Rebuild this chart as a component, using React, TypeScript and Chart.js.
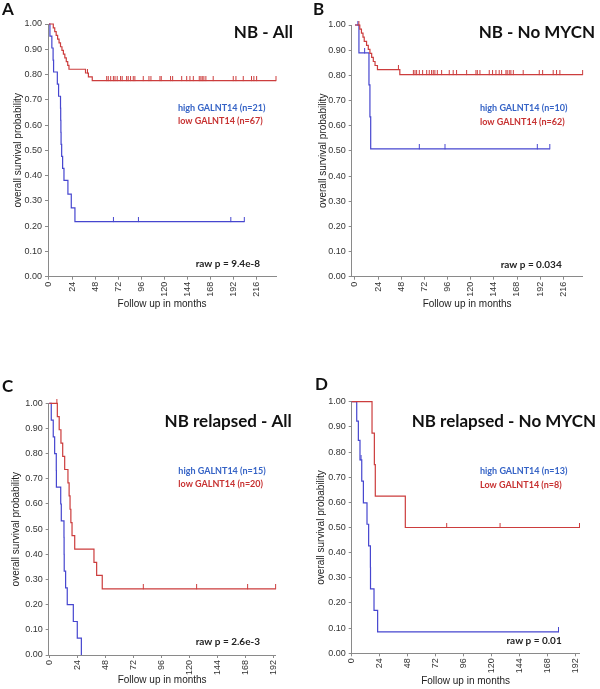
import React, { useEffect, useRef } from 'react';
import { Chart, registerables } from 'chart.js';

Chart.register(...registerables);

// ---------------- DATA ----------------
const xTicksLong = [0, 24, 48, 72, 96, 120, 144, 168, 192, 216];
const xTicksShort = [0, 24, 48, 72, 96, 120, 144, 168, 192];
const yTicks = [0, 0.1, 0.2, 0.3, 0.4, 0.5, 0.6, 0.7, 0.8, 0.9, 1.0];

const yAxisTitle = 'overall survival probability';
const xAxisTitle = 'Follow up in months';

// Panel A: NB - All
const A_title = 'NB - All';
const A_highLabel = 'high GALNT14 (n=21)';
const A_lowLabel = 'low GALNT14 (n=67)';
const A_pValue = 'raw p = 9.4e-8';
const A_highT = [0, 1, 3, 4.3, 4.8, 8.7, 10, 12, 12.2, 12.4, 12.6, 13.2, 14.2, 15.6, 19.7, 23.2, 27, 203];
const A_highS = [1, 0.952, 0.905, 0.857, 0.81, 0.762, 0.714, 0.667, 0.619, 0.571, 0.524, 0.476, 0.429, 0.381, 0.327, 0.272, 0.218, 0.218];
const A_highCens = [67, 93, 189, 203];
const A_lowT = [0, 4.5, 6, 7.5, 9, 10.5, 12, 13.5, 15, 16.5, 18, 19.5, 20.8, 38, 41, 45, 236];
const A_lowS = [1, 0.985, 0.97, 0.955, 0.94, 0.925, 0.91, 0.896, 0.881, 0.866, 0.851, 0.836, 0.821, 0.806, 0.791, 0.776, 0.776];
const A_lowCens = [40, 60, 61.6, 64.1, 66.9, 68.6, 70.9, 74.4, 76.1, 80.7, 82.3, 84.8, 87.6, 89.3, 98, 103.9, 106, 115.3, 116.7, 126.4, 128.5, 137.9, 143.1, 146.5, 150, 156.2, 157.9, 159.3, 161, 163.1, 170.7, 191.5, 194.3, 201.9, 210.5, 213, 215.8, 236];

// Panel B: NB - No MYCN
const B_title = 'NB - No MYCN';
const B_highLabel = 'high GALNT14 (n=10)';
const B_lowLabel = 'low GALNT14 (n=62)';
const B_pValue = 'raw p = 0.034';
const B_highT = [0, 4.1, 14.5, 15.5, 16.3, 202];
const B_highS = [1, 0.889, 0.762, 0.635, 0.508, 0.508];
const B_highCens = [3, 10, 66.7, 93.3, 189, 202];
const B_lowT = [0, 5, 6.7, 8.3, 9.6, 12, 13.8, 15.5, 17.3, 19, 20.8, 23.3, 46.5, 236];
const B_lowS = [1, 0.984, 0.968, 0.952, 0.935, 0.919, 0.903, 0.887, 0.871, 0.855, 0.839, 0.823, 0.803, 0.803];
const B_lowCens = [4, 45, 60.5, 62.2, 63.9, 66.7, 70.1, 74.3, 77, 79.4, 81.1, 82.8, 85.3, 89.8, 97.7, 101.8, 105.3, 115.7, 125.4, 126.8, 129.5, 139.2, 142.6, 146.1, 149.5, 152, 156.5, 157.8, 159.9, 161.6, 164.1, 174.4, 191, 194.5, 205.5, 209, 212.4, 236];

// Panel C: NB relapsed - All
const C_title = 'NB relapsed - All';
const C_highLabel = 'high GALNT14 (n=15)';
const C_lowLabel = 'low GALNT14 (n=20)';
const C_pValue = 'raw p = 2.6e-3';
const C_highT = [0, 1.7, 3.4, 4.6, 6, 6.1, 9.8, 10.3, 12.6, 12.7, 12.8, 14, 15.4, 20.6, 24, 27.5];
const C_highS = [1, 0.933, 0.867, 0.8, 0.733, 0.667, 0.6, 0.533, 0.467, 0.4, 0.333, 0.267, 0.2, 0.133, 0.067, 0];
const C_highCens: number[] = [];
const C_lowT = [0, 6.9, 8.5, 10, 11.5, 13.2, 16, 17, 17.8, 18.5, 19.5, 21.8, 38.3, 40.6, 45.4, 194];
const C_lowS = [1, 0.947, 0.895, 0.842, 0.789, 0.737, 0.684, 0.632, 0.579, 0.526, 0.474, 0.421, 0.368, 0.316, 0.263, 0.263];
const C_lowCens = [6.5, 80.6, 126.3, 170, 194];

// Panel D: NB relapsed - No MYCN
const D_title = 'NB relapsed - No MYCN';
const D_highLabel = 'high GALNT14 (n=13)';
const D_lowLabel = 'Low GALNT14 (n=8)';
const D_pValue = 'raw p = 0.01';
const D_highT = [0, 4.3, 5.7, 7.1, 8.6, 10, 13.1, 14.5, 16, 16.1, 19.1, 22.2, 177];
const D_highS = [1, 0.923, 0.846, 0.769, 0.684, 0.598, 0.513, 0.427, 0.342, 0.256, 0.171, 0.085, 0.085];
const D_highCens = [8, 177];
const D_lowT = [0, 17.4, 19.4, 20.2, 45.9, 195];
const D_lowS = [1, 0.875, 0.75, 0.625, 0.5, 0.5];
const D_lowCens = [81.3, 127, 195];

// ---------------- STYLE ----------------
const BLUE = '#4646cf';
const RED = '#cc3d3d';
const BLUE_TEXT = '#3563c6';
const RED_TEXT = '#c73131';
const AXIS = '#8a8a8a';
const TICK_TEXT = '#333333';
const LABEL_FONT = 'bold 17px Lato, "Open Sans", sans-serif';
const LEG_FONT = 'bold 9px Lato, "Open Sans", sans-serif';
const P_FONT = 'bold 10px Lato, "Open Sans", sans-serif';

type Txt = { text: string; x: number; y: number; font: string; color: string; align: CanvasTextAlign; baseline: CanvasTextBaseline };

type PanelCfg = {
  key: string;
  left: number; top: number; w: number; h: number;
  area: { l: number; t: number; r: number; b: number };
  xMin: number; xMax: number; xTicks: number[];
  yTitleX: number; xTitleY: number;
  highT: number[]; highS: number[]; highCens: number[];
  lowT: number[]; lowS: number[]; lowCens: number[];
  texts: Txt[];
};

function mkTexts(letter: string, lx: number, ly: number, title: string, tx: number, ty: number,
  hi: string, lo: string, legX: number, legY1: number, legY2: number, p: string, px: number, py: number): Txt[] {
  return [
    { text: letter, x: lx, y: ly, font: LABEL_FONT, color: '#111', align: 'left', baseline: 'alphabetic' },
    { text: title, x: tx, y: ty, font: LABEL_FONT, color: '#111', align: 'right', baseline: 'alphabetic' },
    { text: hi, x: legX, y: legY1, font: LEG_FONT, color: BLUE_TEXT, align: 'left', baseline: 'middle' },
    { text: lo, x: legX, y: legY2, font: LEG_FONT, color: RED_TEXT, align: 'left', baseline: 'middle' },
    { text: p, x: px, y: py, font: P_FONT, color: '#222', align: 'right', baseline: 'middle' },
  ];
}

const panels: PanelCfg[] = [
  {
    key: 'A', left: 0, top: 0, w: 300, h: 330,
    area: { l: 48, t: 24, r: 276, b: 276.7 }, xMin: -1, xMax: 236, xTicks: xTicksLong,
    yTitleX: 18, xTitleY: 304,
    highT: A_highT, highS: A_highS, highCens: A_highCens, lowT: A_lowT, lowS: A_lowS, lowCens: A_lowCens,
    texts: mkTexts('A', 2, 15, A_title, 293, 38, A_highLabel, A_lowLabel, 178, 108.5, 121.5, A_pValue, 260, 263.5),
  },
  {
    key: 'B', left: 300, top: 0, w: 300, h: 330,
    area: { l: 51.7, t: 25, r: 282.6, b: 276.7 }, xMin: -3.4, xMax: 236, xTicks: xTicksLong,
    yTitleX: 23.3, xTitleY: 304.3,
    highT: B_highT, highS: B_highS, highCens: B_highCens, lowT: B_lowT, lowS: B_lowS, lowCens: B_lowCens,
    texts: mkTexts('B', 13, 15, B_title, 295, 38, B_highLabel, B_lowLabel, 180, 108.3, 121.7, B_pValue, 261.7, 264.3),
  },
  {
    key: 'C', left: 0, top: 330, w: 300, h: 359,
    area: { l: 48.7, t: 73.3, r: 275.6, b: 325 }, xMin: -0.5, xMax: 194, xTicks: xTicksShort,
    yTitleX: 16.7, xTitleY: 350,
    highT: C_highT, highS: C_highS, highCens: C_highCens, lowT: C_lowT, lowS: C_lowS, lowCens: C_lowCens,
    texts: mkTexts('C', 2, 62, C_title, 291.7, 96.7, C_highLabel, C_lowLabel, 178.3, 141, 154, C_pValue, 260, 311.7),
  },
  {
    key: 'D', left: 300, top: 330, w: 300, h: 359,
    area: { l: 51.7, t: 71.7, r: 279.5, b: 323.3 }, xMin: 0, xMax: 195, xTicks: xTicksShort,
    yTitleX: 21.7, xTitleY: 351,
    highT: D_highT, highS: D_highS, highCens: D_highCens, lowT: D_lowT, lowS: D_lowS, lowCens: D_lowCens,
    texts: mkTexts('D', 15, 60, D_title, 296, 96.7, D_highLabel, D_lowLabel, 180, 141, 155, D_pValue, 261.7, 311),
  },
];

// ---------------- HELPERS ----------------
function levelAt(times: number[], surv: number[], t: number): number {
  let v = surv[0];
  for (let i = 0; i < times.length; i++) {
    if (times[i] <= t) v = surv[i];
  }
  return v;
}

function makeTick(color: string): HTMLCanvasElement {
  const c = document.createElement('canvas');
  c.width = 3;
  c.height = 9;
  const ctx = c.getContext('2d')!;
  ctx.fillStyle = color;
  ctx.fillRect(1, 0, 1, 5);
  return c;
}

const annotPlugin = {
  id: 'annot',
  afterDraw(chart: any, _args: any, opts: any) {
    const ctx = chart.ctx as CanvasRenderingContext2D;
    const items: Txt[] = opts.items || [];
    for (const t of items) {
      ctx.save();
      ctx.font = t.font;
      ctx.fillStyle = t.color;
      ctx.textAlign = t.align;
      ctx.textBaseline = t.baseline;
      ctx.fillText(t.text, t.x, t.y);
      ctx.restore();
    }
  },
};

function KMPanel({ cfg }: { cfg: PanelCfg }) {
  const ref = useRef<HTMLCanvasElement | null>(null);
  useEffect(() => {
    if (!ref.current) return;
    const { area } = cfg;
    const curve = (T: number[], S: number[], color: string) => ({
      type: 'line' as const,
      data: T.map((t, i) => ({ x: t, y: S[i] })),
      borderColor: color,
      borderWidth: 1.2,
      stepped: 'before' as const,
      pointRadius: 0,
      fill: false,
      clip: false as any,
    });
    const cens = (C: number[], T: number[], S: number[], color: string) => ({
      type: 'line' as const,
      data: C.map((t) => ({ x: t, y: levelAt(T, S, t) })),
      showLine: false,
      pointStyle: makeTick(color),
      pointRadius: 3,
      pointHoverRadius: 3,
      borderColor: color,
      backgroundColor: color,
      clip: false as any,
    });
    const tickFont = { family: '"Liberation Sans", Arial, sans-serif', size: 9 };
    const titleFont = { family: '"Liberation Sans", Arial, sans-serif', size: 10 };
    const yW = area.l;
    const xH = cfg.h - area.b;
    const chart = new Chart(ref.current, {
      type: 'line',
      data: {
        datasets: [
          curve(cfg.lowT, cfg.lowS, RED),
          cens(cfg.lowCens, cfg.lowT, cfg.lowS, RED),
          curve(cfg.highT, cfg.highS, BLUE),
          cens(cfg.highCens, cfg.highT, cfg.highS, BLUE),
        ] as any,
      },
      options: {
        responsive: false,
        animation: false,
        devicePixelRatio: 1,
        events: [],
        layout: { padding: { left: 0, top: area.t, right: cfg.w - area.r, bottom: 0 } },
        plugins: {
          legend: { display: false },
          tooltip: { enabled: false },
          annot: { items: cfg.texts },
        } as any,
        scales: {
          x: {
            type: 'linear',
            min: cfg.xMin,
            max: cfg.xMax,
            afterBuildTicks: (scale: any) => {
              scale.ticks = cfg.xTicks.map((v) => ({ value: v }));
            },
            afterFit: (scale: any) => {
              scale.height = xH;
            },
            ticks: {
              autoSkip: false,
              minRotation: 90,
              maxRotation: 90,
              padding: 2,
              font: tickFont,
              color: TICK_TEXT,
              callback: (v: any) => String(v),
            },
            grid: { display: true, drawOnChartArea: false, drawTicks: true, tickLength: 3, color: AXIS },
            border: { display: true, color: AXIS, width: 1 },
            title: {
              display: true,
              text: xAxisTitle,
              font: titleFont,
              color: '#222',
              padding: { top: 0, bottom: cfg.h - cfg.xTitleY - 6 },
            },
          },
          y: {
            type: 'linear',
            min: 0,
            max: 1,
            afterBuildTicks: (scale: any) => {
              scale.ticks = yTicks.map((v) => ({ value: v }));
            },
            afterFit: (scale: any) => {
              scale.width = yW;
            },
            ticks: {
              padding: 3,
              font: tickFont,
              color: TICK_TEXT,
              callback: (v: any) => Number(v).toFixed(2),
            },
            grid: { display: true, drawOnChartArea: false, drawTicks: true, tickLength: 3, color: AXIS },
            border: { display: true, color: AXIS, width: 1 },
            title: {
              display: true,
              text: yAxisTitle,
              font: titleFont,
              color: '#222',
              padding: { top: cfg.yTitleX - 6, bottom: 0 },
            },
          },
        },
      } as any,
      plugins: [annotPlugin],
    });
    return () => chart.destroy();
  }, [cfg]);
  return (
    <canvas
      ref={ref}
      width={cfg.w}
      height={cfg.h}
      style={{ position: 'absolute', left: cfg.left, top: cfg.top, width: cfg.w, height: cfg.h }}
    />
  );
}

export default function App() {
  return (
    <div style={{ position: 'absolute', left: 0, top: 0, width: 600, height: 689, background: '#ffffff', overflow: 'hidden' }}>
      {panels.map((p) => (
        <KMPanel key={p.key} cfg={p} />
      ))}
    </div>
  );
}
